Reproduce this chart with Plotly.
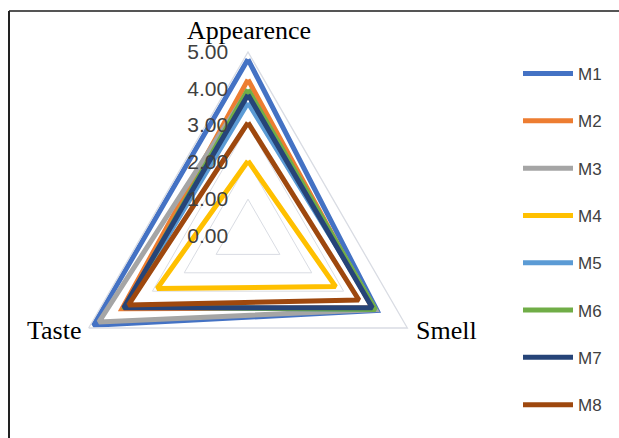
import plotly.graph_objects as go

# Sensory attributes scored for each sample
attributes = ["Appearence", "Smell", "Taste"]

M1 = [4.80, 4.05, 4.85]
M2 = [4.25, 3.90, 3.95]
M3 = [3.95, 4.00, 4.68]
M4 = [2.04, 2.75, 2.85]
M5 = [3.62, 4.00, 3.85]
M6 = [3.98, 4.00, 3.85]
M7 = [3.84, 3.90, 3.90]
M8 = [3.08, 3.48, 3.75]

series = {"M1": M1, "M2": M2, "M3": M3, "M4": M4,
          "M5": M5, "M6": M6, "M7": M7, "M8": M8}
colors = {"M1": "#4472C4", "M2": "#ED7D31", "M3": "#A5A5A5", "M4": "#FFC000",
          "M5": "#5B9BD5", "M6": "#70AD47", "M7": "#264478", "M8": "#9E480E"}

radial_ticks = [0, 1, 2, 3, 4, 5]

fig = go.Figure()
for name, vals in series.items():
    fig.add_trace(go.Scatterpolar(
        r=vals + vals[:1],
        theta=attributes + attributes[:1],
        mode="lines",
        name=name,
        legendgroup=name,
        line=dict(color=colors[name], width=5),
    ))

W, H = 619, 438
cx, cy, R = 248, 236, 184

# attribute names sit just outside each vertex of the outer grid triangle
label_pos = {"Appearence": (249, 30, "center"),
             "Smell": (414, 330, "left"),
             "Taste": (84, 330, "right")}
annotations = [
    dict(text=a, x=label_pos[a][0] / W, y=1 - label_pos[a][1] / H,
         xref="paper", yref="paper", xanchor=label_pos[a][2], yanchor="middle",
         showarrow=False,
         font=dict(family="Liberation Serif", size=26, color="#000000"))
    for a in attributes
]

fig.update_layout(
    width=W, height=H,
    margin=dict(l=0, r=0, t=0, b=0),
    paper_bgcolor="white",
    plot_bgcolor="white",
    polar=dict(
        domain=dict(x=[(cx - R) / W, (cx + R) / W],
                    y=[(H - cy - R) / H, (H - cy + R) / H]),
        gridshape="linear",
        bgcolor="white",
        angularaxis=dict(
            direction="clockwise",
            rotation=90,
            showgrid=False,
            showline=True,
            linecolor="#D9DCE3",
            linewidth=1.3,
            ticks="",
            showticklabels=False,
        ),
        radialaxis=dict(
            range=[0, 5],
            angle=90,
            side="counterclockwise",
            tickangle=90,
            tickvals=radial_ticks,
            tickformat=".2f",
            showline=False,
            ticks="outside",
            ticklen=12,
            tickcolor="rgba(0,0,0,0)",
            gridcolor="#D9DCE3",
            gridwidth=1.3,
            tickfont=dict(family="Liberation Sans", size=21, color="#404040"),
        ),
    ),
    annotations=annotations,
    legend=dict(
        x=518 / W, y=1 - 56 / H, xanchor="left", yanchor="top",
        font=dict(family="Liberation Sans", size=17, color="#404040"),
        itemwidth=50,
        tracegroupgap=22.2,
        bgcolor="rgba(0,0,0,0)",
    ),
    shapes=[
        dict(type="line", xref="paper", yref="paper",
             x0=9 / W, x1=1.01, y0=(H - 11) / H, y1=(H - 11) / H,
             line=dict(color="#555555", width=2)),
        dict(type="line", xref="paper", yref="paper",
             x0=9 / W, x1=9 / W, y0=-0.01, y1=(H - 11) / H,
             line=dict(color="#222222", width=2)),
    ],
)

fig.write_html("out.html")
